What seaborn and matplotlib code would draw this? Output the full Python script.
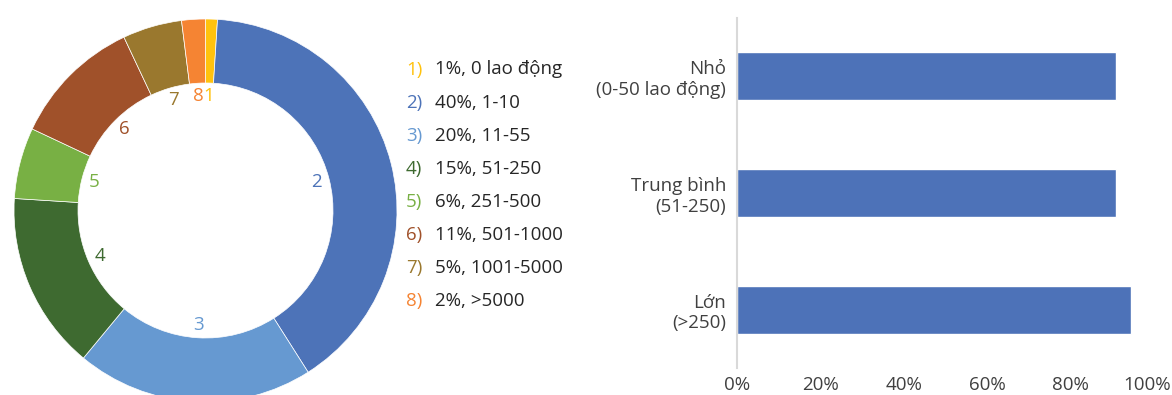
import matplotlib
matplotlib.use("Agg")
import matplotlib.pyplot as plt
import matplotlib.transforms as mtransforms
import pandas as pd
import seaborn as sns

# Donut: share of firms by workforce size
slice_ids = ["1", "2", "3", "4", "5", "6", "7", "8"]
slice_shares = [1, 40, 20, 15, 6, 11, 5, 2]
slice_ranges = ["0 lao động", "1-10", "11-55", "51-250", "251-500",
                "501-1000", "1001-5000", ">5000"]
slice_colors = ["#FFC20E", "#4D73B8", "#6699D1", "#3E6A30",
                "#78B044", "#A0512A", "#9A782E", "#F58433"]

# Bars: share by firm size group
size_groups = ["Nhỏ\n(0-50 lao động)", "Trung bình\n(51-250)", "Lớn\n(>250)"]
group_shares = [91, 91, 94.5]
x_ticks = [0, 20, 40, 60, 80, 100]

BAR_COLOR = "#4D72B8"
TEXT_COLOR = "#262626"
TICK_COLOR = "#404040"
FS = 13.5

sns.set_theme(style="white")
plt.rcParams["font.family"] = ["Open Sans", "DejaVu Sans"]

W, H = 1172, 395
fig = plt.figure(figsize=(W / 100, H / 100), dpi=100)


def px_axes(left, top, width, height):
    return fig.add_axes([left / W, (H - top - height) / H, width / W, height / H])


# ---- donut ----
R = 191.5
cx, cy = 205.5, 210.5
pad = 1.02
ax_pie = px_axes(cx - R * pad, cy - R * pad, 2 * R * pad, 2 * R * pad)
wedges, texts = ax_pie.pie(
    slice_shares, colors=slice_colors, startangle=90, counterclock=False,
    radius=1, labels=slice_ids, labeldistance=0.6,
    wedgeprops=dict(width=64 / R, edgecolor="white", linewidth=0.5),
    textprops=dict(fontsize=FS),
)
for t, c in zip(texts, slice_colors):
    t.set_color(c)
    t.set_ha("center")
    t.set_va("center")
ax_pie.set_xlim(-pad, pad)
ax_pie.set_ylim(-pad, pad)
ax_pie.set_aspect("equal")
ax_pie.axis("off")

# ---- legend list ----
for i, (sid, share, rng, col) in enumerate(zip(slice_ids, slice_shares,
                                               slice_ranges, slice_colors)):
    y = 74.5 + i * 33.1
    fig.text(406 / W, 1 - y / H, f"{sid})", color=col, fontsize=FS,
             ha="left", va="baseline")
    fig.text(435 / W, 1 - y / H, f"{share}%, {rng}", color=TEXT_COLOR,
             fontsize=FS, ha="left", va="baseline")

# ---- bar chart ----
df = pd.DataFrame({"group": size_groups, "share": group_shares})
ax_bar = px_axes(737.3, 18, 416.7, 350)
sns.barplot(data=df, y="group", x="share", orient="h", color=BAR_COLOR,
            saturation=1, width=0.41, ax=ax_bar)
ax_bar.set_xlim(0, 100)
ax_bar.set_xticks(x_ticks)
ax_bar.set_xticklabels([f"{v}%" for v in x_ticks])
ax_bar.set_xlabel("")
ax_bar.set_ylabel("")
for side in ["top", "right", "bottom"]:
    ax_bar.spines[side].set_visible(False)
ax_bar.spines["left"].set_color("#D9D9D9")
ax_bar.spines["left"].set_linewidth(1.5)
ax_bar.tick_params(axis="x", length=0, pad=6, labelsize=FS, labelcolor=TICK_COLOR)
ax_bar.tick_params(axis="y", length=0, pad=8, labelsize=FS, labelcolor=TICK_COLOR)
ax_bar.grid(False)

last = ax_bar.get_xticklabels()[-1]
last.set_transform(last.get_transform()
                   + mtransforms.ScaledTranslation(-7 / 100, 0, fig.dpi_scale_trans))

fig.savefig("out.png", dpi=100, facecolor="white")
